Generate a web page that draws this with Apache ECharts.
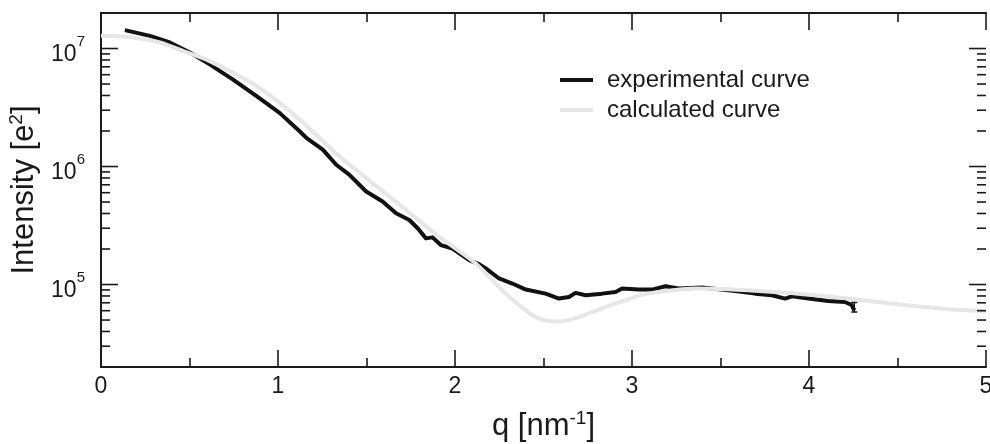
<!DOCTYPE html>
<html>
<head>
<meta charset="utf-8">
<script src="https://cdn.jsdelivr.net/npm/echarts@6/dist/echarts.min.js"></script>
<style>html,body{margin:0;padding:0;background:#fff;}#c{width:990px;height:444px;}</style>
</head>
<body>
<div id="c"></div>
<script>
// ---- data ----
var expQ = [0.135,0.276,0.389,0.502,0.614,0.744,0.879,1.009,1.122,1.16,1.253,1.329,1.404,1.498,1.591,1.667,1.742,1.789,1.836,1.873,1.920,1.986,2.080,2.136,2.174,2.249,2.324,2.400,2.512,2.587,2.644,2.681,2.738,2.831,2.907,2.944,3.038,3.113,3.189,3.264,3.395,3.583,3.696,3.790,3.865,3.903,3.997,4.109,4.203,4.241,4.256];
var expI = [1.432e7,1.279e7,1.125e7,9.25e6,7.35e6,5.48e6,3.95e6,2.85e6,1.99e6,1.75e6,1.39e6,1.035e6,8.51e5,6.14e5,5.05e5,4.02e5,3.52e5,3.0e5,2.46e5,2.51e5,2.16e5,2.02e5,1.61e5,1.49e5,1.37e5,1.125e5,1.02e5,9.06e4,8.37e4,7.6e4,7.85e4,8.49e4,8.11e4,8.37e4,8.65e4,9.25e4,9.06e4,9.06e4,9.68e4,9.25e4,9.44e4,8.83e4,8.37e4,8.11e4,7.6e4,7.94e4,7.6e4,7.26e4,7.11e4,6.7e4,6.04e4];
var calcQ = [0,0.18,0.333,0.462,0.614,0.744,0.879,1.009,1.122,1.347,1.629,1.911,2.117,2.287,2.400,2.475,2.587,2.700,2.775,2.850,2.963,3.05,3.15,3.358,3.546,3.658,3.940,4.222,4.504,4.786,5.0];
var calcI = [1.28e7,1.242e7,1.125e7,9.55e6,7.83e6,6.25e6,4.81e6,3.47e6,2.5e6,1.22e6,5.57e5,2.54e5,1.51e5,8.37e4,6.03e4,5.14e4,4.85e4,5.3e4,5.85e4,6.44e4,7.35e4,8.13e4,8.65e4,9.25e4,9.12e4,8.93e4,8.37e4,7.6e4,6.79e4,6.17e4,5.94e4];
var seriesNames = ['experimental curve','calculated curve'];
var xTicks = [0,1,2,3,4,5];
var yMajorTicks = [1e5,1e6,1e7];
var yMinorTicks = [3e4,4e4,5e4,6e4,7e4,8e4,9e4,2e5,3e5,4e5,5e5,6e5,7e5,8e5,9e5,2e6,3e6,4e6,5e6,6e6,7e6,8e6,9e6];
var errQ = [4.256];
var errLo = [5.85e4];
var errHi = [7.05e4];

// ---- chart ----
var FONT = '"Liberation Sans", Arial, Helvetica, sans-serif';
var INK = '#1a1a1a';
function zip(a,b){ return a.map(function(v,i){ return [v,b[i]]; }); }

var axisLineStyle = { show:true, lineStyle:{ color:INK, width:2 } };
var chart = echarts.init(document.getElementById('c'), null, { renderer:'canvas' });

function tickSeries(name, xVal, values, len, dir){
  return {
    type:'custom', name:name, data:values.map(function(v){ return [xVal, v]; }),
    renderItem:function(params, api){
      var p = api.coord([api.value(0), api.value(1)]);
      return { type:'line', shape:{ x1:p[0], y1:p[1], x2:p[0] + dir*len, y2:p[1] },
               style:{ stroke:INK, lineWidth:1.6 } };
    },
    clip:false, silent:true, z:10
  };
}
var xMin = xTicks[0], xMax = xTicks[xTicks.length-1];

var option = {
  animation:false,
  backgroundColor:'#fff',
  grid:{ left:101, top:13, width:885, height:354, containLabel:false, outerBoundsMode:'none' },
  legend:{
    orient:'vertical', left:555, top:63, itemWidth:33, itemHeight:4, itemGap:6, icon:'rect',
    data:seriesNames,
    textStyle:{ fontFamily:FONT, fontSize:24, color:INK, padding:[0,0,0,9] }
  },
  xAxis:[{
    type:'value', min:xMin, max:xMax, interval:1, position:'bottom',
    axisLine:axisLineStyle,
    axisTick:{ show:true, inside:true, length:17, lineStyle:{ color:INK, width:1.6 } },
    minorTick:{ show:true, splitNumber:2, length:9, lineStyle:{ color:INK, width:1.6 } },
    splitLine:{ show:false },
    axisLabel:{ fontFamily:FONT, fontSize:23, color:INK, margin:8 },
    name:'q [nm{s|-1}]', nameLocation:'middle', nameGap:42,
    nameTextStyle:{ fontFamily:FONT, fontSize:31, color:INK,
      rich:{ s:{ fontFamily:FONT, fontSize:19, color:INK, padding:[0,0,16,0] } } }
  },{
    type:'value', min:xMin, max:xMax, interval:1, position:'top',
    axisLine:axisLineStyle,
    axisTick:{ show:true, inside:true, length:17, lineStyle:{ color:INK, width:1.6 } },
    minorTick:{ show:true, splitNumber:2, length:9, lineStyle:{ color:INK, width:1.6 } },
    splitLine:{ show:false }, axisLabel:{ show:false }
  }],
  yAxis:[{
    type:'log', logBase:10, min:2e4, max:2e7, position:'left',
    axisLine:axisLineStyle,
    axisTick:{ show:false },
    splitLine:{ show:false },
    axisLabel:{
      margin:16, color:INK,
      formatter:function(v){
        var e = Math.round(Math.log10(v));
        if (Math.abs(v/Math.pow(10,e) - 1) < 1e-6) return '{b|10}{s|' + e + '}';
        return '';
      },
      rich:{
        b:{ fontFamily:FONT, fontSize:23, color:INK, padding:[12,0,0,0] },
        s:{ fontFamily:FONT, fontSize:15, color:INK, padding:[0,0,14,0] }
      }
    },
    name:'Intensity [e{s|2}]', nameLocation:'middle', nameGap:45, nameRotate:90,
    nameTextStyle:{ fontFamily:FONT, fontSize:31, color:INK,
      rich:{ s:{ fontFamily:FONT, fontSize:19, color:INK, padding:[0,0,16,0] } } }
  },{
    type:'log', logBase:10, min:2e4, max:2e7, position:'right',
    axisLine:axisLineStyle,
    axisTick:{ show:false },
    splitLine:{ show:false }, axisLabel:{ show:false }
  }],
  series:[
    {
      name:seriesNames[0], type:'line', data:zip(expQ, expI), symbol:'none',
      lineStyle:{ color:'#111', width:4, join:'round' }, itemStyle:{ color:'#111' }, z:3
    },
    {
      name:seriesNames[1], type:'line', data:zip(calcQ, calcI), symbol:'none', smooth:0.25,
      lineStyle:{ color:'#e6e6e6', width:4 }, itemStyle:{ color:'#e6e6e6' }, z:4
    },
    {
      type:'custom', name:'errbar', data:errQ.map(function(q,i){ return [q, errLo[i], errHi[i]]; }),
      renderItem:function(params, api){
        var lo = api.coord([api.value(0), api.value(1)]);
        var hi = api.coord([api.value(0), api.value(2)]);
        var w = 3;
        return { type:'group', children:[
          { type:'line', shape:{ x1:lo[0], y1:lo[1], x2:hi[0], y2:hi[1] }, style:{ stroke:'#111', lineWidth:1.5 } },
          { type:'line', shape:{ x1:lo[0]-w, y1:lo[1], x2:lo[0]+w, y2:lo[1] }, style:{ stroke:'#111', lineWidth:1.5 } },
          { type:'line', shape:{ x1:hi[0]-w, y1:hi[1], x2:hi[0]+w, y2:hi[1] }, style:{ stroke:'#111', lineWidth:1.5 } }
        ]};
      }, z:3, silent:true
    },
    tickSeries('majL', xMin, yMajorTicks, 17, 1),
    tickSeries('minL', xMin, yMinorTicks, 9, 1),
    tickSeries('majR', xMax, yMajorTicks, 17, -1),
    tickSeries('minR', xMax, yMinorTicks, 9, -1)
  ]
};
chart.setOption(option);
</script>
</body>
</html>
